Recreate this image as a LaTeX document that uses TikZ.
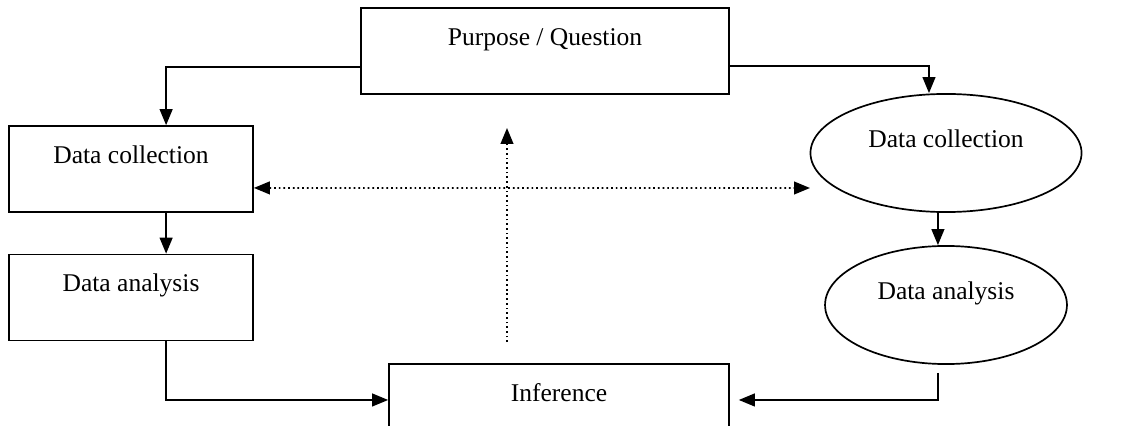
\documentclass[tikz,border=0pt]{standalone}
\usepackage{fontspec}
\setmainfont{Liberation Serif}
\usetikzlibrary{arrows.meta,shapes.geometric}
\begin{document}
\begin{tikzpicture}[x=0.47pt,y=-0.47pt,
  box/.style={draw,line width=0.8pt,rectangle,inner sep=0pt,minimum height=40.4pt,text height=17.6pt,text depth=22.8pt,font=\fontsize{12}{14}\selectfont},
  oval/.style={draw,line width=0.8pt,ellipse,inner sep=0pt,minimum height=55.5pt,text height=8pt,text depth=13.6pt,font=\fontsize{12}{14}\selectfont},
  arr/.style={line width=0.8pt,-{Triangle[length=7.5pt,width=6pt]}},
  dots/.style={line width=0.8pt,dash pattern=on 0.8pt off 1.4pt}]
\path[use as bounding box] (0,0) rectangle (1145,426);
\node[box,minimum width=173pt] (purpose) at (545,51) {Purpose / Question};
\node[box,minimum width=114.7pt] (dcbox) at (131,169) {Data collection};
\node[box,minimum width=114.7pt] (dabox) at (131,297.5) {Data analysis};
\node[box,minimum width=159.8pt] (inference) at (559,407) {Inference};
\node[oval,minimum width=127.4pt] (dcoval) at (946,153) {Data collection};
\node[oval,minimum width=113.7pt] (daoval) at (946,305) {Data analysis};
\coordinate (infup) at (507,342);
\coordinate (purdown) at (507,128);
\coordinate (ovalleft) at (810,188);
\draw[arr]([yshift=-7.5pt]purpose.west)-|([xshift=16.5pt]dcbox.north);
\draw[arr]([xshift=16.5pt]dcbox.south)--([xshift=16.5pt]dabox.north);
\draw[arr]([xshift=16.5pt]dabox.south)|-([yshift=3.3pt]inference.west);
\draw[arr]([yshift=-7pt]purpose.east)-|([xshift=-8pt]dcoval.north);
\draw[arr]([xshift=-3.8pt]dcoval.south)--([xshift=-3.8pt]daoval.north);
\draw[arr]([xshift=-3.8pt,yshift=-3.8pt]daoval.south)|-([xshift=4.2pt,yshift=3.3pt]inference.east);
\draw[dots,-{Triangle[length=7.5pt,width=6pt]}](infup)--(purdown);
\draw[dots,{Triangle[length=7.5pt,width=6pt]}-{Triangle[length=7.5pt,width=6pt]}]([yshift=-8.9pt]dcbox.east)--(ovalleft);
\end{tikzpicture}
\end{document}
